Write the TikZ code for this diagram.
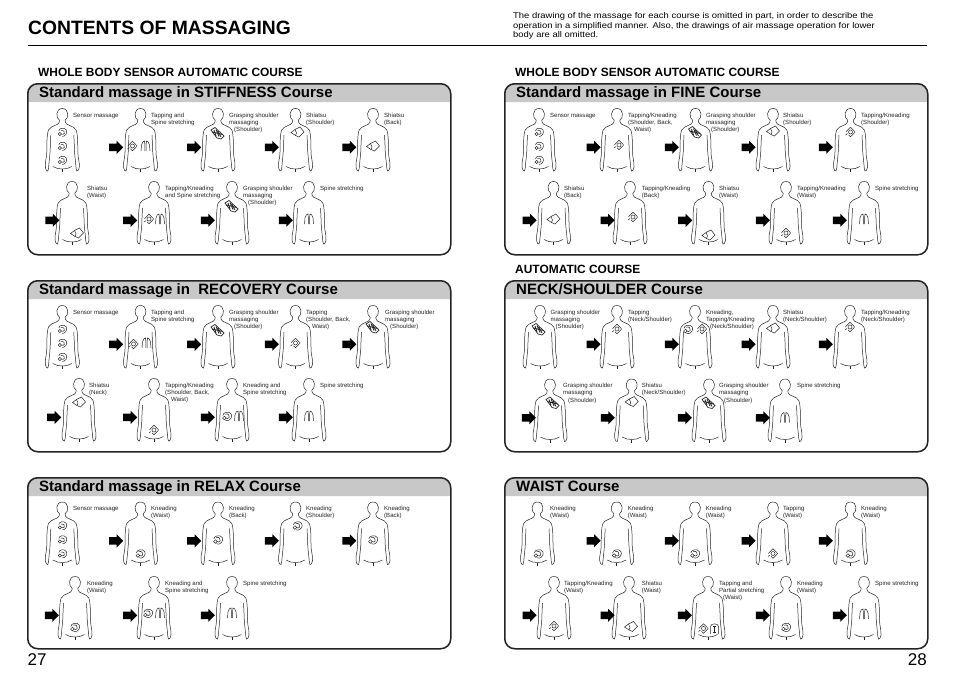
\documentclass[tikz,border=0pt]{standalone}
\usepackage{fontspec}
\setmainfont{Liberation Sans}
\newfontfamily\widefont[FakeStretch=1.13]{Liberation Sans}
\usetikzlibrary{positioning,shapes.arrows}
\definecolor{mygray}{RGB}{200,200,200}
\definecolor{myink}{RGB}{35,35,35}
\tikzset{
body/.pic={
\draw[bodyline] (-2.8,5.2) .. controls (-6.5,3.5) and (-7,-6.5) .. (0,-6.5) .. controls (7,-6.5) and (6.5,3.5) .. (2.8,5.2);
\foreach \s in {1,-1}{
\draw[bodyline,xscale=\s] (2.8,5.2) -- (3.2,7.5) .. controls (3.8,10.5) and (11.5,10.5) .. (13.8,15) .. controls (15.5,19) and (15.5,30) .. (15.5,37) .. controls (15.5,43) and (17.5,47) .. (17,52) .. controls (16.5,55) and (15,57) .. (14.5,56) .. controls (14,54) and (13.5,53) .. (13.5,50) .. controls (13,44) and (12,38) .. (12,30) -- (11.5,20);
\draw[bodyline,xscale=\s] (0,54) .. controls (3,54) and (6.5,53.5) .. (9.5,51.5);
}
\draw[bodyline] (0,54) -- (0,57);
}}
\tikzset{
sensor/.pic={
\draw[iconline] (-3.5,-1) .. controls (-3.5,-4) and (2,-5) .. (4,-2) .. controls (5.5,1) and (3,4.5) .. (0,4.5);
\draw[iconline] (-1.5,-1.5) .. controls (1,-2.5) and (3,-.5) .. (2,1.5) .. controls (1.5,2.5) and (0,2.5) .. (-.5,2);
\draw[iconline] (-2.4,2) circle (1.6);
},
tapping/.pic={
\draw[iconline] (0,-4.8) -- (4.6,0) -- (0,4.8) -- (-2,2.8);
\draw[iconline] (-4.6,0) -- (-2.5,-2.3) -- (0,-4.8);
\draw[iconline] (0,0) circle (2);
\draw[iconline] (-5,3) -- (-3,1.5);
},
kneading/.pic={
\draw[iconline] (-4.2,-.5) .. controls (-4,-4) and (2.5,-5) .. (4.2,-2) .. controls (5.8,1) and (3,4.6) .. (.5,4.6) -- (-1.5,4.2);
\draw[iconline] (-1.8,-1.8) .. controls (1,-3) and (3.2,-.5) .. (2.2,1.5) .. controls (1.5,2.8) and (0,2.8) .. (-.8,2);
\draw[iconline] (-2.6,2) circle (1.8);
},
shiatsu/.pic={
\draw[iconline] (-6.5,.5) -- (-2.5,-2.5) -- (2.5,-5) -- (6.5,0) -- (1.5,5) -- (-2,3.5) -- cycle;
\draw[iconline] (-2.5,-2.5) -- (-1,1) -- (-2,3.5);
},
grasping/.pic={
\draw[iconline,line width=.7pt] (-7,-3) -- (-3,-5.5) -- (6,3) -- (3,6) -- (-1,5) -- cycle;
\draw[iconline,line width=.8pt] (-4,-3) -- (-2,3) (-2,-3.5) -- (1,3.5) (0,-2) -- (3,4) (-6,-1) -- (5,1.5);
},
spine/.pic={
\draw[iconline] (-4.5,5) -- (-4,-1) .. controls (-3.5,-4) and (-2,-5) .. (-1,-5) .. controls (-.5,-3) and (-.5,0) .. (-.7,5);
\draw[iconline] (4.5,5) -- (4,-1) .. controls (3.5,-4) and (2,-5) .. (1,-5) .. controls (.5,-3) and (.5,0) .. (.7,5);
},
partial/.pic={
\draw[iconline] (-4,5) -- (-4,-2.5) .. controls (-4,-6) and (4,-6) .. (4,-2.5) -- (4,5);
\draw[iconline,line width=.8pt] (-1.5,-3) -- (1.5,-3) (0,-3) -- (0,3) (-1.5,3) -- (1.5,3);
}}
\newcommand{\person}[6]{
\coordinate (#1) at (#2,#3);
\node[lab] (#1l) [below right=-3.3pt and #4pt of #1] {\rule{0pt}{5.1pt}#5};
\begin{scope}[shift={(#1)}]
\pic {body};
#6
\end{scope}
}
\newcommand{\nextperson}[7]{
\person{#1}{#2}{#3}{#5}{#6}{#7}
\node[stepar] (#1a) at ([shift={(#4,32.3)}]#1) {};
}
\newcommand{\panel}[4]{
\draw[hdr] (#2,#3+19) -- (#2,#3+10) [rounded corners=10pt] -- (#2,#3) -- (#2+423,#3) [sharp corners] -- (#2+423,#3+10) -- (#2+423,#3+19) -- cycle;
\node[frame] (#1) [anchor=north west] at (#2,#3) {};
\node[ttl] (#1t) at (#2+12,#3+14) {#4};
}
\newcommand{\senslab}{Sensor massage}
\newcommand{\grlab}{Grasping shoulder\\massaging\\\hspace*{5pt}(Shoulder)}
\newcommand{\tklab}{Tapping/Kneading}
\newcommand{\sbwlab}{(Shoulder, Back,\\\hspace*{6pt}Waist)}
\newcommand{\threesens}{\pic at (0,17) {sensor}; \pic at (0,31) {sensor}; \pic at (0,45) {sensor};}
\begin{document}
\begin{tikzpicture}[x=1pt,y=-1pt,inner sep=0pt]
\tikzstyle{bodyline}=[line width=.5pt, draw=myink]
\tikzstyle{iconline}=[line width=.5pt, draw=myink]
\tikzstyle{lab}=[align=left, font=\fontsize{6.05}{7.3}\selectfont, text=myink]
\tikzstyle{stepar}=[single arrow, fill=black, inner sep=3.6pt, minimum height=14pt, single arrow head extend=2.7pt, single arrow head indent=0pt]
\tikzstyle{hdr}=[fill=mygray, draw=none]
\tikzstyle{frame}=[rectangle, rounded corners=10pt, draw=myink, line width=1.5pt, minimum width=423pt, minimum height=171pt]
\tikzstyle{ttl}=[anchor=base west, font=\fontsize{15}{16}\bfseries\selectfont]
\tikzstyle{sub}=[anchor=west, font=\fontsize{11.95}{13}\bfseries\selectfont]
\useasboundingbox (0,0) rectangle (954,675);
\node[anchor=west, font=\fontsize{19.3}{24}\bfseries\selectfont] (title) at (28,28) {CONTENTS OF MASSAGING};
\node[anchor=north west, align=left, font=\widefont\fontsize{8.35}{9.5}\selectfont] (intro) at (513,12.5) {The drawing of the massage for each course is omitted in part, in order to describe the\\operation in a simplified manner. Also, the drawings of air massage operation for lower\\body are all omitted.};
\coordinate (rulea) at (28,45.5);
\coordinate (ruleb) at (927,45.5);
\draw[line width=1pt] (rulea) -- (ruleb);
\node[sub] (sublefta) at (38,72.5) {WHOLE BODY SENSOR AUTOMATIC COURSE};
\node[sub] (subrighta) at (515,72.5) {WHOLE BODY SENSOR AUTOMATIC COURSE};
\node[sub] (subrightb) at (515,269.5) {AUTOMATIC COURSE};
\panel{stiff}{27}{83}{Standard massage in STIFFNESS Course}
\panel{recov}{27}{280}{Standard massage in\ \ RECOVERY Course}
\panel{relax}{27}{477}{Standard massage in RELAX Course}
\panel{fine}{504}{83}{Standard massage in FINE Course}
\panel{neck}{504}{280}{NECK/SHOULDER Course}
\panel{waist}{504}{477}{WAIST Course}
\person{sta}{62.3}{115}{10.7}{\senslab}{\threesens}
\nextperson{stb}{140.5}{115}{-26.2}{10.5}{Tapping and\\Spine stretching}{\pic at (-8,31) {tapping}; \pic at (5,31) {spine};}
\nextperson{stc}{218}{115}{-25.7}{11}{\grlab}{\pic at (0,18) {grasping};}
\nextperson{std}{295.5}{115}{-25.5}{10.5}{Shiatsu\\(Shoulder)}{\pic at (2,17) {shiatsu};}
\nextperson{ste}{373}{115}{-25.5}{11}{Shiatsu\\(Back)}{\pic at (0,31) {shiatsu};}
\nextperson{stf}{72}{188}{-21.5}{15}{Shiatsu\\(Waist)}{\pic at (5,45) {shiatsu};}
\nextperson{stg}{154}{188}{-25.7}{11}{\tklab\\and Spine stretching}{\pic at (-5,31) {tapping}; \pic at (6,31) {spine};}
\nextperson{sth}{232}{188}{-26}{11}{\grlab}{\pic at (0,18) {grasping};}
\nextperson{sti}{309}{188}{-25}{11}{Spine stretching}{\pic at (0,31) {spine};}
\person{rea}{62.3}{312}{10.7}{\senslab}{\threesens}
\nextperson{reb}{140.5}{312}{-26.2}{10.5}{Tapping and\\Spine stretching}{\pic at (-7,32) {tapping}; \pic at (6,31) {spine};}
\nextperson{rec}{218}{312}{-25.7}{11}{\grlab}{\pic at (0,18) {grasping};}
\nextperson{red}{295.5}{312}{-25.5}{10.5}{Tapping\\\sbwlab}{\pic at (0,31) {tapping};}
\nextperson{ree}{373}{312}{-25.5}{12}{\grlab}{\pic at (0,15) {grasping};}
\nextperson{ref}{79}{385}{-26.7}{10}{Shiatsu\\(Neck)}{\pic at (0,17) {shiatsu};}
\nextperson{reg}{154}{385}{-25.7}{11}{\tklab\\\sbwlab}{\pic at (0,45) {tapping};}
\nextperson{reh}{232}{385}{-26}{11}{Kneading and\\Spine stretching}{\pic at (-5,31) {kneading}; \pic at (7,31) {spine};}
\nextperson{rei}{309}{385}{-25}{11}{Spine stretching}{\pic at (0,31) {spine};}
\person{raa}{62.3}{508.5}{10.7}{\senslab}{\threesens}
\nextperson{rab}{140.5}{508.5}{-26.2}{10.5}{Kneading\\(Waist)}{\pic at (0,45) {kneading};}
\nextperson{rac}{218}{508.5}{-25.7}{11}{Kneading\\(Back)}{\pic at (0,31) {kneading};}
\nextperson{rad}{295.5}{508.5}{-25.5}{10.5}{Kneading\\(Shoulder)}{\pic at (2,17) {kneading};}
\nextperson{rae}{373}{508.5}{-25.5}{11}{Kneading\\(Back)}{\pic at (0,31) {kneading};}
\nextperson{raf}{75}{583}{-25}{12}{Kneading\\(Waist)}{\pic at (0,44) {kneading};}
\nextperson{rag}{154}{583}{-25.7}{11}{Kneading and\\Spine stretching}{\pic at (-6,30) {kneading}; \pic at (6,30) {spine};}
\nextperson{rah}{232}{583}{-26}{11}{Spine stretching}{\pic at (0,30) {spine};}
\person{fia}{539}{115}{11}{\senslab}{\threesens}
\nextperson{fib}{617}{115}{-25.3}{11}{\tklab\\\sbwlab}{\pic at (2,30) {tapping};}
\nextperson{fic}{695.5}{115}{-25.5}{10.5}{\grlab}{\pic at (0,17) {grasping};}
\nextperson{fid}{773}{115}{-26.3}{10}{Shiatsu\\(Shoulder)}{\pic at (0,16) {shiatsu};}
\nextperson{fie}{850.5}{115}{-26.5}{10.5}{\tklab\\(Shoulder)}{\pic at (0,17) {tapping};}
\nextperson{fif}{553.5}{188}{-25.8}{10.5}{Shiatsu\\(Back)}{\pic at (0,31) {shiatsu};}
\nextperson{fig}{630}{188}{-24.3}{11.7}{\tklab\\(Back)}{\pic at (3,29) {tapping};}
\nextperson{fih}{708.5}{188}{-25.2}{10.5}{Shiatsu\\(Waist)}{\pic at (0,47) {shiatsu};}
\nextperson{fii}{786}{188}{-25}{11}{\tklab\\(Waist)}{\pic at (0,45) {tapping};}
\nextperson{fij}{864}{188}{-26}{11}{Spine stretching}{\pic at (0,31) {spine};}
\person{nea}{540}{312}{10.5}{\grlab}{\pic at (-1,17) {grasping};}
\nextperson{neb}{617}{312}{-25.3}{11}{Tapping\\(Neck/Shoulder)}{\pic at (0,17) {tapping};}
\nextperson{nec}{695}{312}{-25}{11}{Kneading,\\\tklab\\\hspace*{4pt}(Neck/Shoulder)}{\pic at (-7,17) {kneading}; \pic at (7,17) {tapping};}
\nextperson{ned}{773}{312}{-26.3}{10}{Shiatsu\\(Neck/Shoulder)}{\pic at (0,16) {shiatsu};}
\nextperson{nee}{850}{312}{-26}{11}{\tklab\\(Neck/Shoulder)}{\pic at (0,15) {tapping};}
\nextperson{nef}{550}{385.5}{-23}{13}{\grlab}{\pic at (3,17) {grasping};}
\nextperson{neg}{631.7}{385.5}{-25.7}{10}{Shiatsu\\(Neck/Shoulder)}{\pic at (0,16) {shiatsu};}
\nextperson{neh}{709}{385.5}{-26}{10}{\grlab}{\pic at (0,17) {grasping};}
\nextperson{nei}{785}{385.5}{-24}{12}{Spine stretching}{\pic at (0,32) {spine};}
\person{waa}{537.5}{508.5}{12.5}{Kneading\\(Waist)}{\pic at (1,45) {kneading};}
\nextperson{wab}{616.7}{508.5}{-25}{11}{Kneading\\(Waist)}{\pic at (0,45) {kneading};}
\nextperson{wac}{695}{508.5}{-25}{10.7}{Kneading\\(Waist)}{\pic at (0,45) {kneading};}
\nextperson{wad}{773}{508.5}{-26.3}{10}{Tapping\\(Waist)}{\pic at (0,45) {tapping};}
\nextperson{wae}{850.5}{508.5}{-26.5}{10.5}{Kneading\\(Waist)}{\pic at (0,45) {kneading};}
\nextperson{waf}{554}{583}{-26.3}{10}{\tklab\\(Waist)}{\pic at (0,43) {tapping};}
\nextperson{wag}{629}{583}{-23.3}{12.7}{Shiatsu\\(Waist)}{\pic at (2,43.5) {shiatsu};}
\nextperson{wah}{708}{583}{-25}{11}{Tapping and\\Partial stretching\\\hspace*{4pt}(Waist)}{\pic at (-4.5,45.5) {tapping}; \pic at (6.5,46) {partial};}
\nextperson{wai}{786}{583}{-25}{11}{Kneading\\(Waist)}{\pic at (0,44) {kneading};}
\nextperson{waj}{864}{583}{-26}{11}{Spine stretching}{\pic at (0,31) {spine};}
\node[anchor=west, font=\fontsize{17}{20}\selectfont] (pagel) at (27.5,660) {27};
\node[anchor=east, font=\fontsize{17}{20}\selectfont] (pager) at (927,660) {28};
\end{tikzpicture}
\end{document}
